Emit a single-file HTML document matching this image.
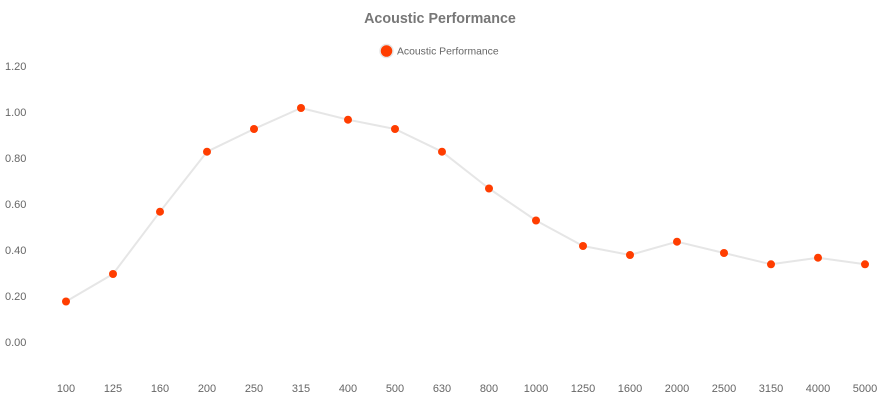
<!DOCTYPE html>
<html><head><meta charset="utf-8"><style>
html,body{margin:0;padding:0;background:#fff;}
svg{display:block;font-family:"Liberation Sans",Arial,sans-serif;}
</style></head><body>
<svg width="880" height="400" viewBox="0 0 880 400" xmlns="http://www.w3.org/2000/svg">
<text x="440" y="23" text-anchor="middle" font-size="14.3" font-weight="bold" fill="#777">Acoustic Performance</text>
<circle cx="386.5" cy="51" r="6.5" fill="#ff3d00" stroke="#e6e6e6" stroke-width="1.5"/>
<text x="397" y="54.5" font-size="10.4" fill="#666">Acoustic Performance</text>
<g font-size="11" fill="#666">
<text x="5" y="70">1.20</text>
<text x="5" y="116">1.00</text>
<text x="5" y="162">0.80</text>
<text x="5" y="208">0.60</text>
<text x="5" y="254">0.40</text>
<text x="5" y="300">0.20</text>
<text x="5" y="346">0.00</text>
</g>
<g font-size="11" fill="#666" text-anchor="middle">
<text x="66" y="392">100</text>
<text x="113" y="392">125</text>
<text x="160" y="392">160</text>
<text x="207" y="392">200</text>
<text x="254" y="392">250</text>
<text x="301" y="392">315</text>
<text x="348" y="392">400</text>
<text x="395" y="392">500</text>
<text x="442" y="392">630</text>
<text x="489" y="392">800</text>
<text x="536" y="392">1000</text>
<text x="583" y="392">1250</text>
<text x="630" y="392">1600</text>
<text x="677" y="392">2000</text>
<text x="724" y="392">2500</text>
<text x="771" y="392">3150</text>
<text x="818" y="392">4000</text>
<text x="865" y="392">5000</text>
</g>
<polyline fill="none" stroke="#e6e6e6" stroke-width="2" stroke-linejoin="round" points="66,301.5 113,274 160,211.7 207,151.7 254,129 301,108 348,119.7 395,129 442,151.7 489,188.5 536,220.5 583,246 630,255 677,241.7 724,253 771,264.3 818,257.7 865,264.3"/>
<g fill="#ff3d00">
<circle cx="66" cy="301.5" r="4"/>
<circle cx="113" cy="274" r="4"/>
<circle cx="160" cy="211.7" r="4"/>
<circle cx="207" cy="151.7" r="4"/>
<circle cx="254" cy="129" r="4"/>
<circle cx="301" cy="108" r="4"/>
<circle cx="348" cy="119.7" r="4"/>
<circle cx="395" cy="129" r="4"/>
<circle cx="442" cy="151.7" r="4"/>
<circle cx="489" cy="188.5" r="4"/>
<circle cx="536" cy="220.5" r="4"/>
<circle cx="583" cy="246" r="4"/>
<circle cx="630" cy="255" r="4"/>
<circle cx="677" cy="241.7" r="4"/>
<circle cx="724" cy="253" r="4"/>
<circle cx="771" cy="264.3" r="4"/>
<circle cx="818" cy="257.7" r="4"/>
<circle cx="865" cy="264.3" r="4"/>
</g>
</svg>
</body></html>
